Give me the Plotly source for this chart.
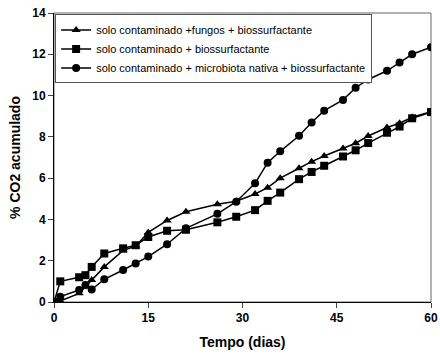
import plotly.graph_objects as go

days = [0, 1, 4, 5, 6, 8, 11, 13, 15, 18, 21, 26, 29, 32, 34, 36, 39, 41, 43, 46, 48, 50, 53, 55, 57, 60]
fungos = [0, 0.05, 0.42, 0.75, 1.07, 1.7, 2.5, 2.7, 3.37, 3.95, 4.37, 4.73, 4.88, 5.23, 5.54, 6.0,
          6.48, 6.8, 7.07, 7.44, 7.69, 8.04, 8.45, 8.66, 8.95, 9.22]
bios = [0, 1.0, 1.2, 1.3, 1.7, 2.35, 2.6, 2.75, 3.15, 3.45, 3.5, 3.86, 4.13, 4.45, 4.9, 5.3,
        5.95, 6.3, 6.6, 7.05, 7.35, 7.7, 8.2, 8.5, 8.9, 9.2]
micro = [0, 0.26, 0.58, 0.82, 0.6, 1.1, 1.55, 1.87, 2.2, 2.8, 3.57, 4.27, 4.86, 5.75, 6.75, 7.3,
         8.05, 8.7, 9.27, 9.79, 10.38, 10.78, 11.2, 11.6, 12.0, 12.34]

names = ["solo contaminado +fungos + biossurfactante",
         "solo contaminado + biossurfactante",
         "solo contaminado + microbiota nativa + biossurfactante"]
x_ticks = [0, 15, 30, 45, 60]
y_ticks = [0, 2, 4, 6, 8, 10, 12, 14]

FONT = "Liberation Sans, Arial, sans-serif"

fig = go.Figure()
for vals, nm, sym in [(fungos, names[0], "triangle-up"), (bios, names[1], "square"),
                      (micro, names[2], "circle")]:
    fig.add_trace(go.Scatter(x=days, y=vals, name=nm, mode="lines+markers",
                             line=dict(color="black", width=1.5),
                             marker=dict(symbol=sym, size=8, color="black")))

fig.update_layout(
    width=440, height=355,
    margin=dict(l=54, r=9, t=13, b=53),
    paper_bgcolor="white", plot_bgcolor="white",
    font=dict(family=FONT, color="black"),
    showlegend=True,
    legend=dict(x=0.003, y=0.995, xanchor="left", yanchor="top",
                bgcolor="white", bordercolor="#555555", borderwidth=1,
                font=dict(size=11, family=FONT), itemwidth=30,
                entrywidth=290, entrywidthmode="pixels",
                tracegroupgap=0),
    shapes=[dict(type="rect", xref="paper", yref="paper", x0=0, y0=0, x1=1, y1=1,
                 line=dict(color="#666666", width=1), layer="below")],
)
fig.update_xaxes(range=[0, 60], tickvals=x_ticks, ticks="outside", ticklen=5,
                 showgrid=False, zeroline=False, showline=True, linecolor="black", linewidth=1,
                 automargin=False,
                 tickfont=dict(size=12, family=FONT, weight="bold"),
                 title=dict(text="<b>Tempo (dias)</b>", font=dict(size=14, family=FONT), standoff=12))
fig.update_yaxes(range=[0, 14], tickvals=y_ticks, ticks="outside", ticklen=5,
                 showgrid=False, zeroline=False, showline=True, linecolor="black", linewidth=1,
                 automargin=False,
                 tickfont=dict(size=12, family=FONT, weight="bold"),
                 title=dict(text="<b>% CO2 acumulado</b>", font=dict(size=14, family=FONT), standoff=8))

fig.write_html("out.html", config={"displayModeBar": False},
               post_script="document.body.style.margin='0';document.body.style.padding='0';")
